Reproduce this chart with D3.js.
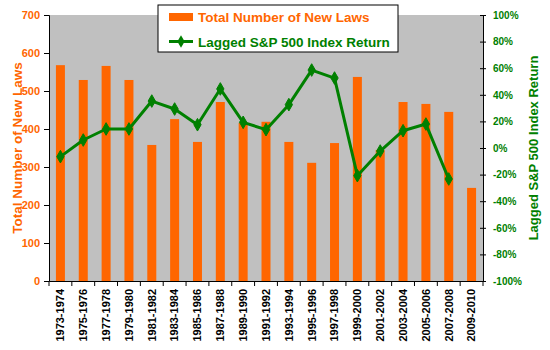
<!DOCTYPE html>
<html>
<head>
<meta charset="utf-8">
<script src="https://cdn.jsdelivr.net/npm/d3@7"></script>
<style>
  html, body { margin: 0; padding: 0; background: #fff; }
  svg { display: block; font-family: "Liberation Sans", Arial, sans-serif; }
</style>
</head>
<body>
<svg id="chart" width="550" height="350"></svg>
<script>
// Congressional sessions (two-year periods)
const periods = ["1973-1974","1975-1976","1977-1978","1979-1980","1981-1982","1983-1984",
  "1985-1986","1987-1988","1989-1990","1991-1992","1993-1994","1995-1996","1997-1998",
  "1999-2000","2001-2002","2003-2004","2005-2006","2007-2008","2009-2010"];

// Total number of new laws enacted per session
const newLaws = [568, 529, 566, 529, 358, 426, 366, 471, 416, 419, 366, 311, 363,
  537, 345, 471, 466, 445, 245];

// Lagged S&P 500 index return (%), none yet for the last session
const spReturn = [-6.5, 6, 14.3, 14.3, 35.3, 29.3, 17.5, 44.4, 19.3, 13.8, 32.6, 58.6,
  52.6, -20.8, -2.3, 13, 18, -23.3];

const lawTicks = [0, 100, 200, 300, 400, 500, 600, 700];
const returnTicks = [-100, -80, -60, -40, -20, 0, 20, 40, 60, 80, 100];

const ORANGE = "#FF6600", GREEN = "#008000", PLOT_BG = "#C0C0C0";

const svg = d3.select("#chart");
const plot = { left: 49, right: 483, top: 15, bottom: 281 };

const x = d3.scaleBand().domain(periods).range([plot.left, plot.right]).padding(0);
const yL = d3.scaleLinear().domain([0, 700]).range([plot.bottom, plot.top]);
const yR = d3.scaleLinear().domain([-100, 100]).range([plot.bottom, plot.top]);

// plot area
svg.append("rect")
  .attr("x", plot.left).attr("y", plot.top)
  .attr("width", plot.right - plot.left).attr("height", plot.bottom - plot.top)
  .attr("fill", PLOT_BG);

// bars
const barW = 9;
svg.append("g").selectAll("rect").data(newLaws).join("rect")
  .attr("x", (d, i) => x(periods[i]) + x.bandwidth() / 2 - barW / 2)
  .attr("y", d => yL(d))
  .attr("width", barW)
  .attr("height", d => yL(0) - yL(d))
  .attr("fill", ORANGE);

// return line
const line = d3.line()
  .x((d, i) => x(periods[i]) + x.bandwidth() / 2)
  .y(d => yR(d));
svg.append("path").datum(spReturn)
  .attr("d", line)
  .attr("fill", "none").attr("stroke", GREEN).attr("stroke-width", 3)
  .attr("stroke-linejoin", "round");

const diamond = d3.symbol().type(d3.symbolDiamond).size(46);
svg.append("g").selectAll("path").data(spReturn).join("path")
  .attr("transform", (d, i) => `translate(${x(periods[i]) + x.bandwidth() / 2},${yR(d)})`)
  .attr("d", diamond)
  .attr("fill", GREEN).attr("stroke", GREEN).attr("stroke-width", 1);

// left axis
const gL = svg.append("g").attr("transform", `translate(${plot.left},0)`)
  .call(d3.axisLeft(yL).tickValues(lawTicks).tickSize(5).tickPadding(4).tickFormat(d3.format("d")));
gL.selectAll("text").attr("fill", ORANGE).attr("font-size", 11).attr("font-weight", "bold")
  .attr("font-family", "Liberation Sans, Arial, sans-serif");

// right axis (ticks cross the axis line)
const gR = svg.append("g").attr("transform", `translate(${plot.right},0)`)
  .call(d3.axisRight(yR).tickValues(returnTicks).tickSize(3).tickPadding(7)
    .tickFormat(d => d + "%"));
gR.selectAll(".tick line").attr("x1", -3);
gR.selectAll("text").attr("fill", GREEN).attr("font-size", 10).attr("font-weight", "bold")
  .attr("font-family", "Liberation Sans, Arial, sans-serif");

// bottom axis with ticks at category boundaries
const gB = svg.append("g").attr("transform", `translate(0,${plot.bottom})`)
  .call(d3.axisBottom(x).tickSize(0).tickPadding(0));
gB.selectAll(".tick text")
  .attr("transform", "rotate(-90)")
  .attr("x", -8).attr("y", 0).attr("dy", "0.35em")
  .attr("text-anchor", "end")
  .attr("fill", "#000").attr("font-size", 11).attr("font-weight", "bold")
  .attr("font-family", "Liberation Sans, Arial, sans-serif");
const bounds = periods.map(p => x(p)).concat([plot.right]);
gB.append("g").selectAll("line").data(bounds).join("line")
  .attr("x1", d => d).attr("x2", d => d).attr("y1", 0).attr("y2", 5)
  .attr("stroke", "#000");

[gL, gR, gB].forEach(g => g.selectAll(".domain, line").attr("stroke", "#000"));

// axis titles
svg.append("text")
  .attr("transform", `translate(17,${(plot.top + plot.bottom) / 2}) rotate(-90)`)
  .attr("text-anchor", "middle").attr("dominant-baseline", "central")
  .attr("fill", ORANGE).attr("font-size", 13.5).attr("font-weight", "bold")
  .text("Total Number of New Laws");
svg.append("text")
  .attr("transform", `translate(533,${(plot.top + plot.bottom) / 2}) rotate(-90)`)
  .attr("text-anchor", "middle").attr("dominant-baseline", "central")
  .attr("fill", GREEN).attr("font-size", 13).attr("font-weight", "bold")
  .text("Lagged S&P 500 Index Return");

// legend
const lg = svg.append("g").attr("transform", "translate(158,5)");
lg.append("rect").attr("width", 240).attr("height", 47)
  .attr("fill", "#fff").attr("stroke", "#000").attr("stroke-width", 1);
lg.append("rect").attr("x", 11).attr("y", 8).attr("width", 24).attr("height", 8).attr("fill", ORANGE);
lg.append("text").attr("x", 40).attr("y", 17)
  .attr("fill", ORANGE).attr("font-size", 13.5).attr("font-weight", "bold")
  .text("Total Number of New Laws");
lg.append("line").attr("x1", 11).attr("x2", 35).attr("y1", 36.5).attr("y2", 36.5)
  .attr("stroke", GREEN).attr("stroke-width", 3);
lg.append("path").attr("transform", "translate(23,36.5)").attr("d", diamond)
  .attr("fill", GREEN);
lg.append("text").attr("x", 40).attr("y", 41.5)
  .attr("fill", GREEN).attr("font-size", 13.5).attr("font-weight", "bold")
  .text("Lagged S&P 500 Index Return");
</script>
</body>
</html>
